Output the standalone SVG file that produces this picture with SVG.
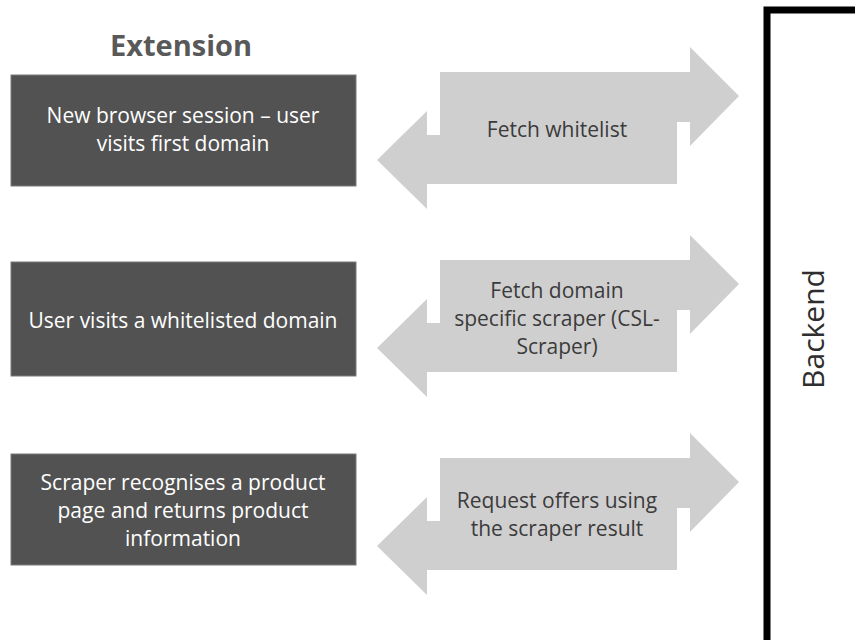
<svg xmlns="http://www.w3.org/2000/svg" width="855" height="640" viewBox="0 0 855 640">
  <style>
    .step rect { fill: #525252; stroke: #7a7a7a; stroke-width: 1; }
    .step text { fill: #ffffff; font-family: "Open Sans", "Liberation Sans", sans-serif; font-size: 21px; text-anchor: middle; }
    .flow use { fill: #d0cfcf; }
    .flow text { fill: #3b3b3b; font-family: "Open Sans", "Liberation Sans", sans-serif; font-size: 21px; text-anchor: middle; }
    .title { fill: #595959; font-family: "Open Sans", "Liberation Sans", sans-serif; font-size: 29px; font-weight: bold; text-anchor: middle; }
    .backend rect { fill: none; stroke: #000000; stroke-width: 7; }
    .backend text { fill: #2e2e2e; font-family: "Open Sans", "Liberation Sans", sans-serif; font-size: 30px; text-anchor: middle; }
  </style>
  <defs>
    <!-- two overlapping block arrows: upper one pointing right, lower one pointing left -->
    <path id="dualArrow" d="M440,0 H690 V-25 L739,24 L690,74 V50 H677 V112 H427 V137 L377,88 L427,39 V63 H440 Z"/>
  </defs>

  <rect width="855" height="640" fill="#ffffff"/>

  <text class="title" x="181" y="56">Extension</text>

  <g id="backend" class="backend">
    <rect x="767" y="10" width="120" height="660"/>
    <text transform="translate(824,329) rotate(-90)">Backend</text>
  </g>

  <g id="step-session" class="step">
    <rect x="11" y="75" width="345" height="111"/>
    <text x="183" y="123">New browser session – user</text>
    <text x="183" y="151">visits first domain</text>
  </g>

  <g id="step-whitelisted" class="step">
    <rect x="11" y="262" width="345" height="114"/>
    <text x="183" y="328">User visits a whitelisted domain</text>
  </g>

  <g id="step-scraper" class="step">
    <rect x="11" y="454" width="345" height="111"/>
    <text x="183" y="490">Scraper recognises a product</text>
    <text x="183" y="518">page and returns product</text>
    <text x="183" y="546">information</text>
  </g>

  <g id="connectors" class="flow">
    <g id="flow-whitelist">
      <use href="#dualArrow" transform="translate(0,72)"/>
      <text x="557" y="137">Fetch whitelist</text>
    </g>
    <g id="flow-scraper">
      <use href="#dualArrow" transform="translate(0,260)"/>
      <text x="557" y="298">Fetch domain</text>
      <text x="557" y="326">specific scraper (CSL-</text>
      <text x="557" y="354">Scraper)</text>
    </g>
    <g id="flow-offers">
      <use href="#dualArrow" transform="translate(0,458)"/>
      <text x="557" y="508">Request offers using</text>
      <text x="557" y="536">the scraper result</text>
    </g>
  </g>
</svg>
